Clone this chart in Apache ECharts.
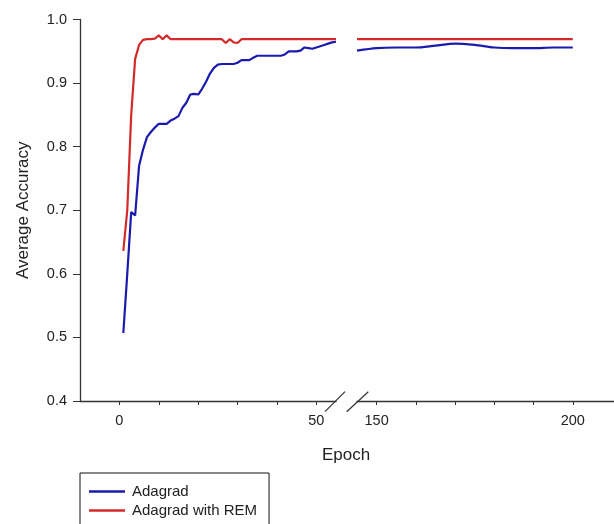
<!DOCTYPE html>
<html>
<head>
<meta charset="utf-8">
<script src="https://cdn.jsdelivr.net/npm/echarts@6/dist/echarts.min.js"></script>
<style>html,body{margin:0;padding:0;background:#fff}#c{width:614px;height:524px}</style>
</head>
<body>
<div id="c"></div>
<script>
// ---- data ----
var leftEpochs = [1,2,3,4,5,6,7,8,9,10,11,12,13,14,15,16,17,18,19,20,21,22,23,24,25,26,27,28,29,30,31,32,33,34,35,36,37,38,39,40,41,42,43,44,45,46,47,48,49,50,51,52,53,54,55];
var adagradLeft = [0.507,0.600,0.697,0.692,0.770,0.795,0.815,0.823,0.830,0.836,0.836,0.836,0.841,0.844,0.848,0.861,0.869,0.882,0.883,0.882,0.891,0.902,0.915,0.924,0.929,0.930,0.930,0.930,0.930,0.932,0.936,0.936,0.936,0.940,0.943,0.943,0.943,0.943,0.943,0.943,0.943,0.945,0.950,0.950,0.950,0.951,0.956,0.955,0.954,0.956,0.958,0.960,0.962,0.964,0.965];
var remLeft = [0.636,0.700,0.850,0.938,0.960,0.968,0.969,0.969,0.970,0.975,0.969,0.975,0.969,0.969,0.969,0.969,0.969,0.969,0.969,0.969,0.969,0.969,0.969,0.969,0.969,0.969,0.963,0.969,0.964,0.963,0.969,0.969,0.969,0.969,0.969,0.969,0.969,0.969,0.969,0.969,0.969,0.969,0.969,0.969,0.969,0.969,0.969,0.969,0.969,0.969,0.969,0.969,0.969,0.969,0.969];
var rightEpochs = [145,150,155,160,165,170,175,180,185,190,195,200];
var adagradRight = [0.951,0.955,0.956,0.956,0.959,0.962,0.960,0.956,0.955,0.955,0.956,0.956];
var remRight = [0.969,0.969,0.969,0.969,0.969,0.969,0.969,0.969,0.969,0.969,0.969,0.969];
var leftTicks = [0,10,20,30,40,50];
var leftLabels = [0,50];
var rightTicks = [150,160,170,180,190,200];
var rightLabels = [150,200];
var seriesNames = ['Adagrad','Adagrad with REM'];

function pairs(xs, ys){ return xs.map(function(x,i){ return [x, ys[i]]; }); }

var FONT = 'Liberation Sans, Arial, sans-serif';
var AX = '#333333';
var BLUE = '#1a1aae';
var RED = '#d42a2a';

var chart = echarts.init(document.getElementById('c'), null, {renderer:'canvas'});

function xAxis(gi, min, max, ticks, labels){
  return {
    type:'value', gridIndex:gi, min:min, max:max,
    axisLine:{show:true, onZero:false, lineStyle:{color:AX, width:1.3}},
    axisTick:{show:true, inside:false, length:4, customValues:ticks, lineStyle:{color:AX}},
    axisLabel:{show:true, customValues:labels, margin:12, fontSize:14.5, color:'#222', fontFamily:FONT},
    splitLine:{show:false}
  };
}
function yAxis(gi, show){
  return {
    type:'value', gridIndex:gi, min:0.4, max:1.0, interval:0.1, show:show, position:'left',
    name: show ? 'Average Accuracy' : '', nameLocation:'middle', nameGap:48, nameRotate:90,
    nameTextStyle:{fontSize:17, color:'#222', fontFamily:FONT},
    axisLine:{show:true, onZero:false, lineStyle:{color:AX, width:1.3}},
    axisTick:{show:true, inside:false, length:7, lineStyle:{color:AX}},
    axisLabel:{margin:13, fontSize:14.5, color:'#222', fontFamily:FONT, formatter:function(v){return v.toFixed(1);}},
    splitLine:{show:false}
  };
}
function line(name, xi, data, color, smooth){
  return {
    name:name, type:'line', xAxisIndex:xi, yAxisIndex:xi, data:data,
    symbol:'none', showSymbol:false, smooth:smooth,
    lineStyle:{color:color, width:2.2}, itemStyle:{color:color},
    animation:false
  };
}

chart.setOption({
  animation:false,
  grid:[
    {left:80, top:19.5, width:256, height:381.5},
    {left:357, top:19.5, width:257, height:381.5}
  ],
  xAxis:[ xAxis(0,-10,55,leftTicks,leftLabels), xAxis(1,145,210.5,rightTicks,rightLabels) ],
  yAxis:[ yAxis(0,true), yAxis(1,false) ],
  legend:{
    type:'plain', data:seriesNames, orient:'vertical', left:80, top:473, height:120,
    padding:[11,12,24,9], itemGap:4, itemWidth:36, itemHeight:2.4, icon:'rect',
    borderColor:'#111', borderWidth:1, backgroundColor:'#fff',
    textStyle:{fontSize:15, color:'#222', fontFamily:FONT, padding:[0,0,0,2]}
  },
  series:[
    line(seriesNames[0],0,pairs(leftEpochs,adagradLeft),BLUE,false),
    line(seriesNames[1],0,pairs(leftEpochs,remLeft),RED,false),
    line(seriesNames[0],1,pairs(rightEpochs,adagradRight),BLUE,0.3),
    line(seriesNames[1],1,pairs(rightEpochs,remRight),RED,0.3)
  ],
  graphic:[
    {type:'line', shape:{x1:325,y1:411.7,x2:345,y2:391.7}, style:{stroke:AX, lineWidth:1.2}},
    {type:'line', shape:{x1:346.7,y1:411.7,x2:368.3,y2:391.7}, style:{stroke:AX, lineWidth:1.2}},
    {type:'text', style:{text:'Epoch', x:346, y:455, align:'center', verticalAlign:'middle', fontSize:17, fill:'#222', fontFamily:FONT}}
  ]
});
</script>
</body>
</html>
